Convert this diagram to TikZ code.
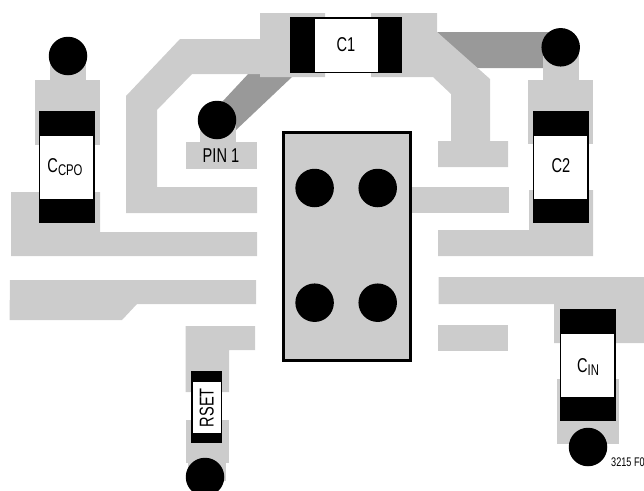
\documentclass[tikz,border=0pt]{standalone}
\usepackage{fontspec}
\setmainfont{Liberation Sans}
\newfontfamily\narrowfont[FakeStretch=0.73]{Liberation Sans}
\usepackage{xcolor}
\definecolor{padgray}{HTML}{CCCCCC}
\definecolor{tracegray}{HTML}{999999}
\usetikzlibrary{calc}

\begin{document}
\begin{tikzpicture}[x=1pt, y=-1pt]
            % Styles
            \tikzstyle{pad} = [fill=padgray, draw=none]
            \tikzstyle{under} = [fill=tracegray, draw=none]
            \tikzstyle{endcap} = [fill=black, draw=none]
            \tikzstyle{body} = [fill=white, draw=none]
            \tikzstyle{via} = [circle, fill=black, inner sep=0pt, minimum size=38.5pt]
            \tikzstyle{label} = [inner sep=0pt, font=\narrowfont\fontsize{20}{20}\selectfont]

            \clip (0,0) rectangle (644,490);

            % Traces on the second layer
            \fill[under] (222,102) -- (250,72) -- (292,72) -- (292,77) -- (236,130) -- cycle;
            \fill[under] (437,32) -- (561,32) -- (561,68) -- (470,68) -- cycle;

            % Copper, top half
            \fill[pad] (50,56) rectangle (86,80);
            \fill[pad] (35,80) rectangle (100,145);
            \fill[pad] (11,192) -- (100,192) -- (100,232) -- (257,232) -- (257,256) -- (11,256) -- cycle;
            \fill[pad] (260,13) -- (325,13) -- (325,77) -- (260,77) -- (260,74) -- (192,74) -- (157,110)
                -- (157,187) -- (257,187) -- (257,213) -- (126,213) -- (126,96) -- (180,39) -- (260,39) -- cycle;
            \fill[pad] (200,120) rectangle (236,142);
            \fill[pad] (186,142) rectangle (257,169);
            \fill[pad] (371,13) -- (437,13) -- (437,32) -- (490,79) -- (490,141) -- (508,141) -- (508,167)
                -- (438,167) -- (438,141) -- (451,141) -- (451,94) -- (433,77) -- (371,77) -- cycle;
            \fill[pad] (543,47) rectangle (579,80);
            \fill[pad] (528,80) rectangle (593,144);
            \fill[pad] (438,230) -- (529,230) -- (529,190) -- (593,190) -- (593,256) -- (438,256) -- cycle;
            \fill[pad] (411,187) rectangle (509,213);

            % Copper, bottom half
            \fill[pad] (10,280) -- (256,280) -- (256,304) -- (137,304) -- (122,320) -- (9.5,320) -- cycle;
            \fill[pad] (185.5,326) -- (255,326) -- (255,350) -- (229,350) -- (229,392) -- (185.5,392) -- cycle;
            \fill[pad] (185.5,420) rectangle (229,463);
            \fill[pad] (188,463) rectangle (226,481);
            \fill[pad] (438.5,277) -- (644,277) -- (644,343) -- (554,343) -- (554,304) -- (438.5,304) -- cycle;
            \fill[pad] (438,325) rectangle (508,351);
            \fill[pad] (557,379) rectangle (619,444);

            % Package
            \draw[pad, draw=black, line width=3pt] (283.5,132.5) rectangle (410,360);

            % Parts
            \fill[endcap] (39,111) rectangle (95,223);
            \fill[body] (40,136) rectangle (93,199);
            \fill[endcap] (290,17) rectangle (402,73);
            \fill[body] (315,19) rectangle (378,72);
            \fill[endcap] (533,111) rectangle (589,223);
            \fill[body] (534,136) rectangle (587,199);
            \fill[endcap] (560,309) rectangle (616,421);
            \fill[body] (561,334) rectangle (614,397);
            \fill[endcap] (191,371) rectangle (222,443);
            \fill[body] (193,382) rectangle (220.5,433);

            % Vias
            \node[via] (via_ccpo) at (68,56) {};
            \node[via] (via_pin) at (217,120) {};
            \node[via] (via_c2) at (560.7,47.3) {};
            \node[via] (via_cin) at (588,447) {};
            \node[via] (via_rset) at (205,477) {};
            \node[via] (via_nw) at (314.6,188) {};
            \node[via] (via_ne) at (377.7,188) {};
            \node[via] (via_sw) at (314.6,302.7) {};
            \node[via] (via_se) at (377.7,302.7) {};

            % Labels
            \node[label] (ccpo) at (65,167) {C\raisebox{-3.5pt}{\fontsize{15.5}{15.5}\selectfont CPO}};
            \node[label] (pin) at (221,156) {PIN 1};
            \node[label] (c1) at (346,45) {C1};
            \node[label] (c2) at (561,166) {C2};
            \node[label] (cin) at (588,367) {C\raisebox{-3.5pt}{\fontsize{15.5}{15.5}\selectfont IN}};
            \node[label, rotate=90] (rset) at (206.7,407.7) {RSET};
            \node[label, anchor=west, font=\narrowfont\fontsize{12.5}{12.5}\selectfont] (fig) at (611,462) {3215 F0};
\end{tikzpicture}
\end{document}
